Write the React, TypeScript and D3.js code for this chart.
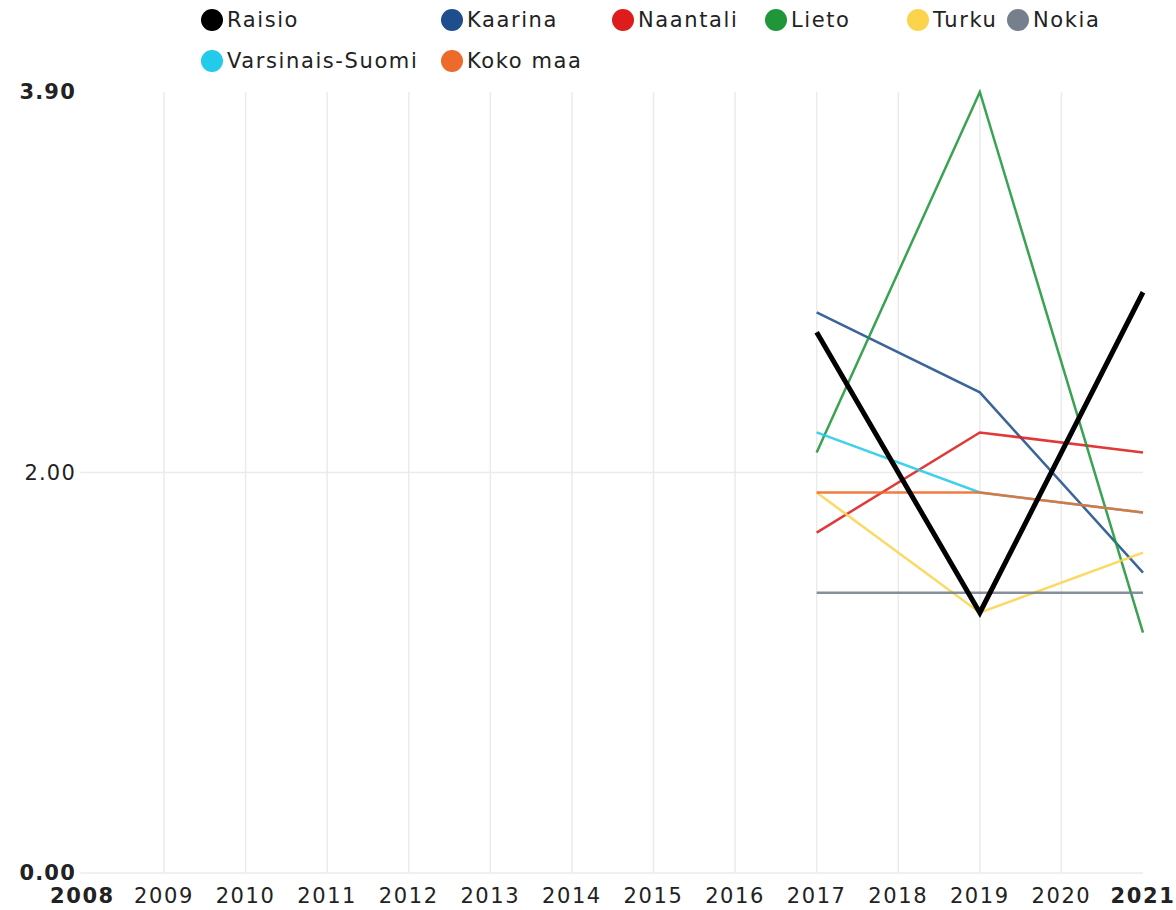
import React from 'react';
import * as d3 from 'd3';

const axisYears = [2008, 2009, 2010, 2011, 2012, 2013, 2014, 2015, 2016, 2017, 2018, 2019, 2020, 2021];
const dataYears = [2017, 2019, 2021];

const seriesNames = ['Raisio', 'Kaarina', 'Naantali', 'Lieto', 'Turku', 'Nokia', 'Varsinais-Suomi', 'Koko maa'];
const seriesColors = ['#000000', '#1f4e8c', '#dd1c1c', '#1e9639', '#fbd44c', '#76808c', '#22cbea', '#ee6a2a'];

const raisio = [2.7, 1.3, 2.9];
const kaarina = [2.8, 2.4, 1.5];
const naantali = [1.7, 2.2, 2.1];
const lieto = [2.1, 3.9, 1.2];
const turku = [1.9, 1.3, 1.6];
const nokia = [1.4, 1.4, 1.4];
const varsinaisSuomi = [2.2, 1.9, 1.8];
const kokoMaa = [1.9, 1.9, 1.8];

const seriesValues = [raisio, kaarina, naantali, lieto, turku, nokia, varsinaisSuomi, kokoMaa];

const yTicks = [0, 2, 3.9];
const yMax = 3.9;

// legend layout (x of each dot, row)
const legendX = [212, 452, 623, 776, 918, 1018, 212, 452];
const legendRow = [0, 0, 0, 0, 0, 0, 1, 1];

// Raisio on top, Koko maa covers Varsinais-Suomi
const drawOrder = [1, 2, 3, 4, 5, 6, 7, 0];

const FONT = '"DejaVu Sans", sans-serif';

const App: React.FC = () => {
  const width = 1176;
  const height = 910;
  const left = 82.4;
  const right = 1143;
  const top = 92;
  const bottom = 873;

  const x = d3.scaleLinear().domain([2008, 2021]).range([left, right]);
  const y = d3.scaleLinear().domain([0, yMax]).range([bottom, top]);

  const line = d3.line<[number, number]>()
    .x(d => x(d[0]))
    .y(d => y(d[1]));

  const boldYear = (yr: number) => yr === 2008 || yr === 2021;

  return (
    <svg width={width} height={height} style={{ position: 'absolute', left: 0, top: 0, background: '#fff' }}
      fontFamily={FONT}>
      {/* vertical grid */}
      {axisYears.filter(yr => yr !== 2008 && yr !== 2021).map(yr => (
        <line key={'vg' + yr} x1={x(yr)} x2={x(yr)} y1={y(yMax)} y2={y(0)} stroke="#ebebeb" strokeWidth={1.5} />
      ))}
      {/* horizontal grid */}
      {yTicks.filter(t => t !== yMax).map(t => (
        <line key={'hg' + t} x1={left - 2} x2={right} y1={y(t)} y2={y(t)} stroke="#ebebeb" strokeWidth={1.5} />
      ))}

      {/* y labels */}
      {yTicks.map(t => (
        <text key={'yl' + t} x={76} y={y(t)} dy="0.35em" textAnchor="end" fontSize={21}
          letterSpacing={1.2} fontWeight={t === 2 ? 'normal' : 'bold'} fill="#222">
          {t.toFixed(2)}
        </text>
      ))}

      {/* x labels */}
      {axisYears.map(yr => (
        <text key={'xl' + yr} x={x(yr)} y={896} dy="0.35em" textAnchor="middle" fontSize={21}
          letterSpacing={1.6} fontWeight={boldYear(yr) ? 'bold' : 'normal'} fill="#222">
          {yr}
        </text>
      ))}

      {/* lines */}
      {drawOrder.map(i => {
        const pts = dataYears.map((yr, j) => [yr, seriesValues[i][j]] as [number, number]);
        return (
          <path key={'ln' + i} d={line(pts) || ''} fill="none" stroke={seriesColors[i]}
            strokeWidth={i === 0 ? 5 : 2.5} strokeOpacity={i === 0 ? 1 : 0.88} />
        );
      })}

      {/* legend */}
      {seriesNames.map((name, i) => {
        const cy = 20 + legendRow[i] * 41;
        return (
          <g key={'lg' + i}>
            <circle cx={legendX[i]} cy={cy} r={11} fill={seriesColors[i]} />
            <text x={legendX[i] + 15} y={cy} dy="0.35em" fontSize={21} letterSpacing={1.6} fill="#222">
              {name}
            </text>
          </g>
        );
      })}
    </svg>
  );
};

export default App;
